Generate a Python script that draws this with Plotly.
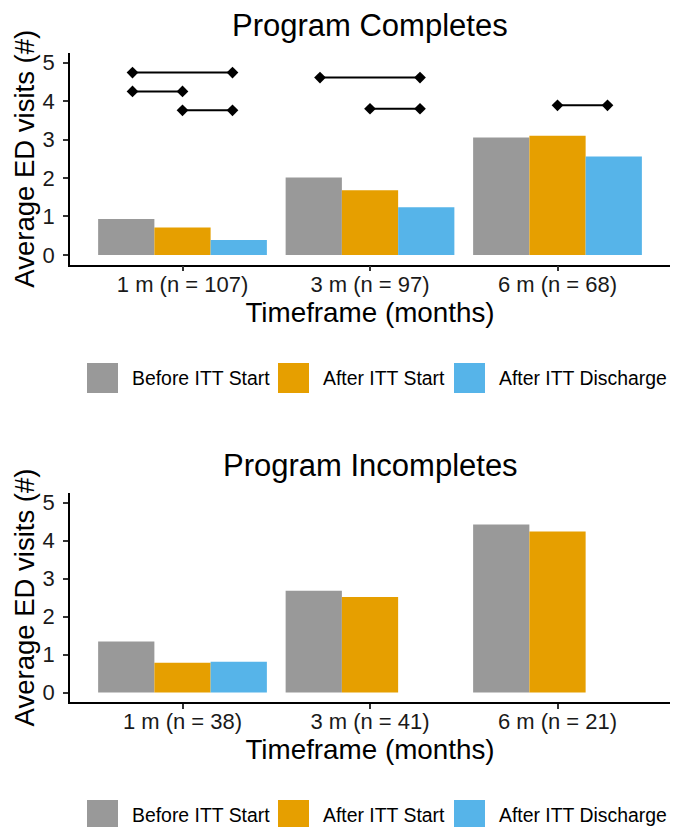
import plotly.graph_objects as go

# ---------------- data ----------------
SERIES = ["Before ITT Start", "After ITT Start", "After ITT Discharge"]
COLORS = ["#999999", "#E69F00", "#56B4E9"]
TIMEFRAMES = [1, 2, 3]

complete_labels = ["1 m (n = 107)", "3 m (n = 97)", "6 m (n = 68)"]
complete_before = [0.93, 2.01, 3.05]
complete_after_start = [0.71, 1.68, 3.10]
complete_after_discharge = [0.39, 1.24, 2.56]

incomplete_labels = ["1 m (n = 38)", "3 m (n = 41)", "6 m (n = 21)"]
incomplete_before = [1.34, 2.68, 4.42]
incomplete_after_start = [0.78, 2.51, 4.24]
incomplete_after_discharge = [0.81, None, None]

# significance brackets in the top panel
bracket_group = [0, 0, 0, 1, 1, 2]      # timeframe index
bracket_from = [0, 0, 1, 0, 1, 1]       # series index
bracket_to = [2, 1, 2, 2, 2, 2]         # series index
bracket_y = [4.74, 4.25, 3.76, 4.61, 3.80, 3.89]

y_ticks = [0, 1, 2, 3, 4, 5]

# ---------------- layout helpers ----------------
W, H = 673, 827
ML, MR, MT, MB = 70, 3, 53, 125
PW = W - ML - MR
PH = H - MT - MB
FONT = "Liberation Sans, Arial, sans-serif"
DODGE_PT = 0.8


def px_x(px):
    return (px - ML) / PW


def px_y(py):
    return (H - MB - py) / PH


top_domain = [px_y(264.5), 1.0]
bot_domain = [0.0, px_y(493)]

fig = go.Figure()

complete_vals = [complete_before, complete_after_start, complete_after_discharge]
incomplete_vals = [incomplete_before, incomplete_after_start, incomplete_after_discharge]

for i, (name, color) in enumerate(zip(SERIES, COLORS)):
    fig.add_trace(go.Bar(x=TIMEFRAMES, y=complete_vals[i], name=name,
                         marker=dict(color=color, line=dict(width=0)),
                         xaxis="x", yaxis="y", showlegend=False))
for i, (name, color) in enumerate(zip(SERIES, COLORS)):
    fig.add_trace(go.Bar(x=TIMEFRAMES, y=incomplete_vals[i], name=name,
                         marker=dict(color=color, line=dict(width=0)),
                         xaxis="x2", yaxis="y2", showlegend=False))

# brackets
n_series = len(SERIES)
for g, a, b, yv in zip(bracket_group, bracket_from, bracket_to, bracket_y):
    xa = TIMEFRAMES[g] + (a - (n_series - 1) / 2) * DODGE_PT / n_series
    xb = TIMEFRAMES[g] + (b - (n_series - 1) / 2) * DODGE_PT / n_series
    fig.add_trace(go.Scatter(x=[xa, xb], y=[yv, yv], mode="lines+markers",
                             line=dict(color="black", width=2),
                             marker=dict(symbol="diamond", size=9, color="black"),
                             xaxis="x", yaxis="y", showlegend=False,
                             hoverinfo="skip"))

axis_common = dict(showline=True, linecolor="black", linewidth=1.8,
                   ticks="outside", ticklen=5, tickwidth=1.5, tickcolor="#333333",
                   showgrid=False, zeroline=False, automargin=False,
                   tickfont=dict(family=FONT, size=22, color="#1a1a1a"))

xcommon = dict(axis_common, range=[0.4, 3.6], tickmode="array", tickvals=TIMEFRAMES,
               ticklabelstandoff=-6,
               title=dict(text="Timeframe (months)", font=dict(family=FONT, size=27.8, color="black"),
                          standoff=2))
ycommon = dict(axis_common, range=[-0.25, 5.25], tickmode="array", tickvals=y_ticks,
               ticklabelstandoff=4,
               title=dict(text="Average ED visits (#)", font=dict(family=FONT, size=27.5, color="black"),
                          standoff=0))

fig.update_layout(
    width=W, height=H, autosize=False,
    margin=dict(l=ML, r=MR, t=MT, b=MB),
    paper_bgcolor="white", plot_bgcolor="white",
    barmode="group", bargap=0.1, bargroupgap=0,
    font=dict(family=FONT, color="black"),
    xaxis=dict(xcommon, domain=[0, 1], anchor="y", ticktext=complete_labels),
    yaxis=dict(ycommon, domain=top_domain, anchor="x"),
    xaxis2=dict(xcommon, domain=[0, 1], anchor="y2", ticktext=incomplete_labels),
    yaxis2=dict(ycommon, domain=bot_domain, anchor="x2"),
    showlegend=False,
)

annotations = [
    dict(text="Program Completes", x=0.5, y=px_y(25), xref="paper", yref="paper",
         xanchor="center", yanchor="middle", showarrow=False,
         font=dict(family=FONT, size=31, color="black")),
    dict(text="Program Incompletes", x=0.5, y=px_y(465), xref="paper", yref="paper",
         xanchor="center", yanchor="middle", showarrow=False,
         font=dict(family=FONT, size=31, color="black")),
]
shapes = []

# manual legends (large keys, as in the reference)
legend_key_left = [87, 278, 454]
for center_y in [378, 815]:
    for i, (name, color) in enumerate(zip(SERIES, COLORS)):
        x0 = legend_key_left[i]
        shapes.append(dict(type="rect", xref="paper", yref="paper",
                           x0=px_x(x0), x1=px_x(x0 + 31),
                           y0=px_y(center_y + 15), y1=px_y(center_y - 15),
                           fillcolor=color, line=dict(width=0)))
        annotations.append(dict(text=name, x=px_x(x0 + 43), y=px_y(center_y),
                                xref="paper", yref="paper", xanchor="left",
                                yanchor="middle", showarrow=False,
                                font=dict(family=FONT, size=19.4, color="black")))

fig.update_layout(annotations=annotations, shapes=shapes)

fig.write_html(
    "out.html",
    config={"displayModeBar": False},
    post_script="document.body.style.margin='0';document.body.style.padding='0';"
                "document.documentElement.style.overflow='hidden';",
)
